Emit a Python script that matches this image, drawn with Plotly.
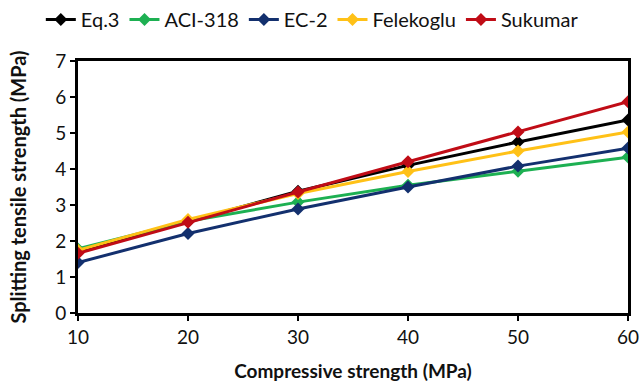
import plotly.graph_objects as go

x_vals = [10, 20, 30, 40, 50, 60]
eq3 = [1.70, 2.55, 3.38, 4.10, 4.75, 5.36]
aci318 = [1.78, 2.55, 3.08, 3.55, 3.94, 4.33]
ec2 = [1.40, 2.21, 2.89, 3.50, 4.08, 4.58]
felekoglu = [1.74, 2.60, 3.32, 3.93, 4.50, 5.03]
sukumar = [1.66, 2.52, 3.36, 4.20, 5.03, 5.87]

series = [
    ("Eq.3", eq3, "#000000"),
    ("ACI-318", aci318, "#1DB052"),
    ("EC-2", ec2, "#13306E"),
    ("Felekoglu", felekoglu, "#FFC117"),
    ("Sukumar", sukumar, "#C00C16"),
]

fig = go.Figure()
for name, vals, col in series:
    fig.add_trace(go.Scatter(
        x=x_vals, y=vals, name=name, mode="lines+markers",
        line=dict(color=col, width=3),
        marker=dict(symbol="diamond", size=10, color=col),
    ))

font_family = "Lato, 'Open Sans', sans-serif"
fig.update_layout(
    width=640, height=387,
    margin=dict(l=78, r=12, t=61, b=74),
    paper_bgcolor="white", plot_bgcolor="white",
    font=dict(family=font_family, size=19, color="#111111"),
    showlegend=True,
    legend=dict(orientation="h", x=0.488, xanchor="center", xref="container",
                y=1.0, yref="container", yanchor="top", font=dict(size=20),
                itemwidth=30, tracegroupgap=0, traceorder="normal"),
    xaxis=dict(range=[10, 60], tickvals=x_vals, showline=True, linecolor="black",
               linewidth=3, mirror=True, ticks="outside", ticklen=5, tickwidth=1.5,
               tickcolor="black", showgrid=False, zeroline=False, automargin=False,
               title=dict(text="<b>Compressive strength (MPa)</b>", font=dict(size=19), standoff=18),
               tickfont=dict(size=19)),
    yaxis=dict(range=[0, 7], dtick=1, showline=True, linecolor="black",
               linewidth=3, mirror=True, ticks="outside", ticklen=5, tickwidth=1.5,
               tickcolor="black", showgrid=False, zeroline=False, automargin=False,
               title=dict(text="<b>Splitting tensile strength (MPa)</b>", font=dict(size=20), standoff=24),
               tickfont=dict(size=19)),
)

fig.write_html("out.html")
